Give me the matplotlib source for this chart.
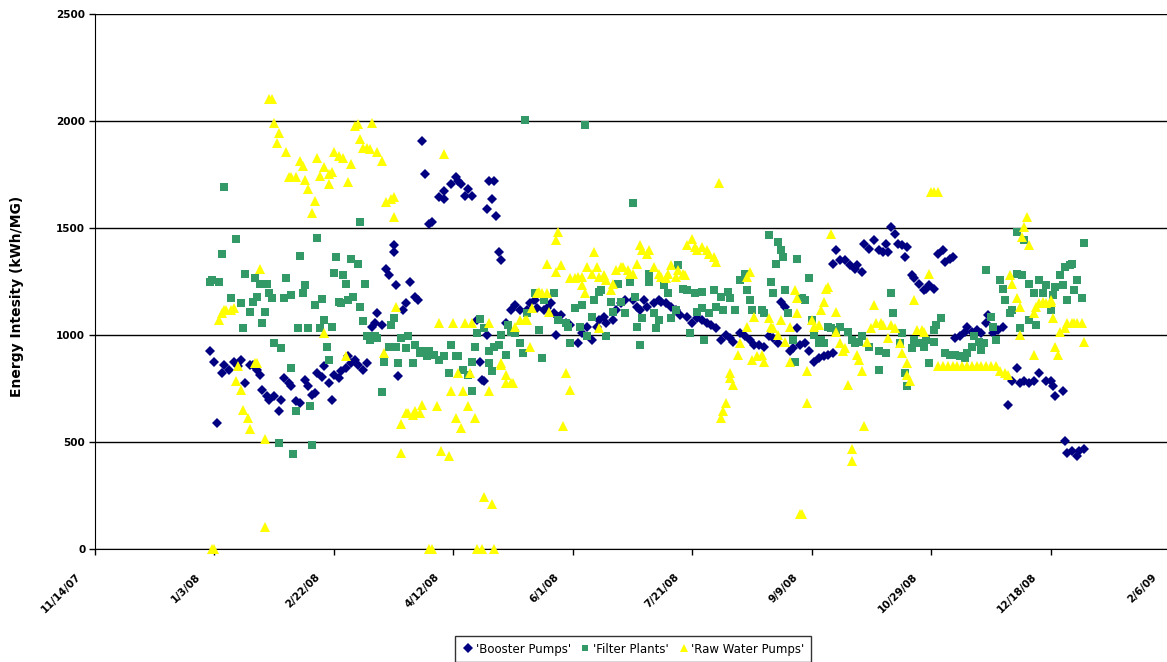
import numpy as np
import matplotlib
matplotlib.use("Agg")
import matplotlib.pyplot as plt
import matplotlib.dates as mdates

# days counted from 1/1/08, values in kWh/MG
booster_day = [0, 2, 3, 5, 6, 8, 10, 12, 13, 15, 17, 18,
               20, 21, 22, 24, 25, 27, 29, 30, 31, 33, 34, 36,
               38, 40, 41, 43, 44, 45, 47, 48, 50, 51, 52, 54,
               55, 57, 58, 59, 61, 62, 64, 66, 68, 69, 70, 72,
               74, 75, 77, 77, 78, 79, 81, 82, 84, 86, 87, 89,
               90, 92, 93, 96, 98, 98, 101, 103, 104, 105, 107, 108,
               110, 112, 113, 114, 115, 116, 116, 117, 118, 119, 120, 121,
               122, 124, 126, 128, 130, 133, 134, 136, 137, 140, 141, 143,
               144, 145, 146, 147, 149, 151, 154, 156, 158, 160, 162, 163,
               165, 166, 169, 170, 172, 174, 177, 179, 180, 182, 183, 186,
               188, 189, 191, 193, 195, 197, 200, 202, 204, 206, 208, 210,
               212, 214, 216, 218, 219, 222, 224, 226, 228, 230, 232, 234,
               236, 238, 239, 241, 243, 244, 246, 247, 249, 251, 253, 255,
               257, 259, 261, 261, 262, 264, 266, 268, 270, 271, 273, 274,
               276, 278, 280, 282, 283, 284, 285, 287, 288, 290, 291, 292,
               294, 295, 297, 299, 300, 301, 303, 305, 307, 308, 310, 311,
               312, 314, 316, 317, 319, 321, 323, 325, 326, 328, 330, 332,
               334, 336, 338, 339, 341, 343, 345, 347, 350, 352, 353, 354,
               357, 358, 359, 361, 363, 364, 366]
booster_kwh = [923, 876, 590, 822, 860, 837, 876, 853, 884, 775, 860, 860,
               837, 814, 744, 713, 698, 713, 644, 698, 799, 775, 760, 690,
               683, 791, 760, 721, 729, 822, 806, 853, 775, 698, 814, 799,
               830, 845, 900, 869, 884, 860, 837, 869, 1039, 1054, 1101, 1047,
               1310, 1279, 1419, 1388, 1233, 807, 1117, 1148, 1248, 1179, 1163, 1907,
               1752, 1520, 1527, 1644, 1675, 1636, 1705, 1736, 1721, 1705, 1651, 1682,
               1651, 1070, 876, 791, 783, 1000, 1589, 1721, 1636, 1721, 1558, 1388,
               1349, 1054, 1117, 1140, 1117, 1117, 1148, 1163, 1124, 1117, 1124, 1148,
               1101, 1000, 1085, 1093, 1054, 1047, 962, 1008, 1039, 977, 1039, 1070,
               1085, 1054, 1070, 1117, 1148, 1163, 1163, 1132, 1117, 1163, 1132, 1148,
               1163, 1155, 1148, 1132, 1117, 1093, 1085, 1054, 1078, 1070, 1054, 1047,
               1031, 977, 1000, 985, 969, 1008, 993, 977, 954, 954, 946, 993,
               985, 962, 1155, 1132, 923, 938, 1031, 954, 962, 923, 876, 892,
               900, 907, 915, 1334, 1396, 1349, 1349, 1326, 1310, 1326, 1295, 1427,
               1403, 1442, 1396, 1388, 1427, 1388, 1504, 1473, 1427, 1419, 1365, 1411,
               1279, 1264, 1240, 1209, 1217, 1233, 1217, 1380, 1396, 1341, 1357, 1365,
               985, 993, 1016, 1039, 1016, 1023, 1008, 1054, 1093, 1008, 1023, 1039,
               675, 783, 845, 776, 783, 776, 783, 822, 783, 783, 760, 713,
               737, 504, 450, 457, 434, 457, 465]

filter_day = [0, 1, 4, 5, 6, 9, 11, 13, 14, 15, 17, 18,
              19, 20, 21, 22, 23, 24, 25, 26, 27, 29, 30, 31,
              32, 34, 34, 35, 36, 37, 38, 39, 40, 41, 42, 43,
              44, 45, 46, 47, 48, 49, 50, 51, 52, 53, 54, 55,
              56, 57, 58, 59, 60, 62, 63, 63, 64, 65, 66, 67,
              69, 70, 72, 73, 75, 76, 77, 78, 79, 80, 82, 83,
              85, 86, 88, 89, 91, 92, 94, 96, 98, 100, 101, 103,
              104, 106, 108, 110, 110, 111, 112, 113, 115, 117, 117, 118,
              119, 121, 122, 124, 125, 126, 128, 130, 131, 132, 133, 136,
              138, 139, 140, 144, 146, 149, 150, 151, 153, 155, 156, 157,
              158, 160, 161, 163, 164, 166, 168, 169, 171, 172, 174, 176,
              177, 178, 179, 180, 181, 184, 184, 186, 187, 188, 190, 192,
              193, 195, 196, 198, 200, 201, 203, 204, 206, 206, 207, 209,
              211, 212, 214, 215, 217, 218, 220, 222, 224, 225, 226, 227,
              231, 232, 234, 235, 236, 237, 238, 239, 240, 241, 242, 244,
              245, 246, 248, 249, 251, 252, 253, 255, 256, 257, 259, 260,
              262, 264, 267, 269, 270, 272, 273, 276, 280, 280, 283, 285,
              286, 289, 290, 291, 292, 294, 295, 297, 299, 300, 301, 303,
              303, 304, 306, 308, 310, 312, 314, 316, 317, 319, 320, 322,
              323, 324, 325, 327, 328, 329, 331, 332, 333, 335, 336, 338,
              338, 339, 340, 341, 343, 343, 345, 346, 347, 349, 350, 352,
              353, 354, 356, 357, 358, 359, 360, 361, 362, 363, 365, 366]
filter_kwh = [1248, 1256, 1248, 1380, 1690, 1171, 1447, 1148, 1031, 1287, 1109, 1155,
              1264, 1179, 1240, 1054, 1109, 1240, 1194, 1171, 961, 496, 938, 1171,
              1264, 1186, 845, 442, 644, 1031, 1369, 1194, 1233, 1031, 667, 484,
              1140, 1454, 1031, 1166, 1070, 946, 884, 1039, 1290, 1364, 1155, 1148,
              1279, 1237, 1163, 1354, 1179, 1334, 1527, 1132, 1067, 1237, 993, 977,
              993, 985, 732, 876, 946, 1047, 1078, 946, 869, 985, 938, 993,
              869, 954, 915, 923, 900, 923, 907, 884, 900, 822, 954, 900,
              900, 837, 814, 737, 876, 946, 1008, 1073, 1031, 869, 923, 830,
              946, 954, 1000, 907, 1047, 1016, 1008, 962, 915, 2003, 1101, 1194,
              1023, 892, 1163, 1194, 1070, 1054, 1039, 962, 1124, 1039, 1140, 1980,
              993, 1085, 1163, 1202, 1209, 993, 1155, 1109, 1240, 1155, 1101, 1248,
              1616, 1179, 1039, 954, 1078, 1287, 1248, 1101, 1031, 1070, 1233, 1194,
              1078, 1117, 1326, 1217, 1209, 1008, 1194, 1109, 1202, 1124, 977, 1101,
              1209, 1132, 1179, 1117, 1202, 1171, 1117, 1256, 1287, 1209, 1163, 1117,
              1117, 1101, 1465, 1248, 1194, 1334, 1434, 1396, 1365, 1209, 1101, 977,
              876, 1357, 1171, 1163, 1264, 1070, 1000, 962, 977, 962, 1039, 1031,
              1023, 1039, 1016, 977, 962, 969, 993, 946, 923, 837, 915, 1194,
              1101, 962, 1008, 822, 760, 938, 977, 962, 946, 977, 869, 1023,
              969, 1047, 1078, 915, 907, 907, 900, 892, 915, 946, 993, 969,
              930, 962, 1302, 1085, 1039, 977, 1256, 1217, 1163, 1101, 1117, 1287,
              1481, 1031, 1279, 1442, 1070, 1240, 1194, 1047, 1256, 1194, 1233, 1117,
              1186, 1225, 1279, 1233, 1318, 1163, 1326, 1334, 1209, 1256, 1171, 1431]

raw_day = [1, 2, 4, 5, 6, 7, 9, 10, 11, 12, 13, 14,
           16, 17, 19, 20, 21, 23, 23, 25, 26, 27, 28, 29,
           32, 33, 34, 36, 38, 39, 40, 41, 43, 44, 45, 46,
           48, 48, 50, 50, 51, 52, 54, 56, 57, 58, 59, 61,
           62, 63, 64, 66, 67, 68, 70, 72, 73, 74, 76, 77,
           77, 78, 80, 80, 82, 83, 85, 86, 88, 89, 92, 93,
           95, 96, 97, 98, 100, 101, 102, 103, 104, 105, 106, 107,
           108, 109, 110, 111, 112, 114, 115, 117, 117, 118, 119, 122,
           122, 124, 124, 126, 127, 128, 130, 132, 133, 134, 135, 137,
           138, 139, 141, 141, 142, 145, 145, 146, 147, 148, 149, 151,
           151, 153, 154, 156, 156, 157, 158, 160, 161, 162, 163, 163,
           165, 166, 168, 169, 170, 172, 173, 175, 176, 177, 179, 180,
           181, 183, 184, 186, 188, 189, 191, 192, 193, 195, 196, 198,
           199, 200, 202, 203, 204, 206, 208, 209, 211, 212, 213, 214,
           215, 216, 218, 218, 219, 221, 222, 225, 225, 226, 227, 228,
           229, 231, 232, 234, 235, 236, 238, 239, 241, 243, 243, 245,
           246, 246, 247, 248, 250, 250, 252, 253, 255, 256, 257, 258,
           259, 260, 262, 262, 264, 265, 266, 267, 269, 269, 271, 272,
           273, 274, 275, 277, 278, 279, 281, 282, 284, 285, 287, 289,
           290, 292, 292, 293, 295, 296, 298, 299, 301, 302, 303, 305,
           305, 307, 309, 311, 313, 315, 317, 319, 321, 323, 325, 327,
           329, 331, 333, 334, 335, 336, 338, 339, 339, 340, 341, 342,
           343, 345, 345, 346, 347, 349, 350, 352, 352, 353, 354, 355,
           356, 358, 359, 361, 362, 363, 365, 366]
raw_kwh = [0, 0, 1070, 1101, 1117, 1117, 1117, 1124, 783, 853, 744, 651,
           613, 559, 869, 869, 1310, 516, 101, 2101, 2101, 1992, 1899, 1946,
           1857, 1736, 1736, 1736, 1814, 1791, 1724, 1682, 1569, 1628, 1829, 1744,
           1009, 1786, 1752, 1705, 1760, 1853, 1837, 1829, 900, 1713, 1798, 1977,
           1984, 1915, 1876, 1876, 1868, 1992, 1853, 1814, 915, 1620, 1636, 1550,
           1643, 1132, 450, 582, 636, 636, 628, 644, 636, 675, 0, 0,
           667, 1054, 458, 1845, 434, 737, 1054, 613, 822, 566, 737, 1054,
           667, 822, 1054, 613, 0, 0, 241, 1054, 737, 210, 0, 869,
           860, 814, 776, 776, 776, 1039, 1070, 1070, 1070, 946, 1124, 1194,
           1202, 1194, 1194, 1334, 1109, 1295, 1442, 1481, 1326, 574, 822, 744,
           1264, 1264, 1272, 1272, 1233, 1194, 1318, 1287, 1388, 1318, 1272, 1031,
           1279, 1256, 1209, 1240, 1302, 1318, 1318, 1302, 1287, 1287, 1334, 1419,
           1396, 1380, 1396, 1318, 1287, 1272, 1264, 1287, 1326, 1272, 1302, 1287,
           1279, 1419, 1450, 1411, 1396, 1411, 1396, 1380, 1365, 1341, 1709, 613,
           644, 683, 822, 799, 768, 907, 962, 1039, 1272, 1295, 884, 1085,
           900, 907, 876, 1078, 1039, 1031, 1000, 1070, 969, 876, 1039, 1209,
           1171, 1101, 163, 163, 830, 683, 1070, 1039, 1047, 1117, 1155, 1217,
           1225, 1473, 1016, 1109, 962, 923, 938, 768, 465, 411, 907, 884,
           830, 574, 969, 1031, 1140, 1054, 1054, 1047, 985, 1047, 1031, 962,
           915, 869, 814, 783, 1163, 1023, 1023, 1016, 1287, 1667, 1667, 1667,
           853, 853, 853, 853, 853, 853, 853, 853, 853, 853, 853, 853,
           853, 830, 822, 814, 1279, 1240, 1171, 1132, 1000, 1457, 1504, 1550,
           1419, 907, 1101, 1132, 1148, 1155, 1148, 1155, 1163, 1078, 946, 907,
           1016, 1031, 1054, 1054, 1054, 1054, 1054, 969]

y_ticks = [0, 500, 1000, 1500, 2000, 2500]

start = np.datetime64("2008-01-01")


def to_dates(days):
    return start + np.array(days).astype("timedelta64[D]")


plt.rcParams["font.family"] = ["DejaVu Sans"]

fig = plt.figure(figsize=(11.67, 6.62), dpi=100)
ax = fig.add_axes([0.0814, 0.1707, 0.9212, 0.8082])

ax.plot(to_dates(booster_day), booster_kwh, "D", color="#000080",
        markersize=5.5, markeredgewidth=0, label="'Booster Pumps'", zorder=3)
ax.plot(to_dates(filter_day), filter_kwh, "s", color="#339966",
        markersize=5.8, markeredgewidth=0, label="'Filter Plants'", zorder=4)
ax.plot(to_dates(raw_day), raw_kwh, "^", color="#FFFF00",
        markersize=7.5, markeredgewidth=0, label="'Raw Water Pumps'", zorder=5,
        clip_on=False)

x0 = np.datetime64("2007-11-14")
x1 = np.datetime64("2009-02-06")
ax.set_xlim(x0, x1)
ax.set_ylim(0, 2500)

# date ticks every 50 days, labels placed like Excel's slanted ones
xt = np.arange(x0, x1 + np.timedelta64(1, "D"), np.timedelta64(50, "D"))
ax.set_xticks(xt)
ax.set_xticklabels([])
for t in xt.astype(object):
    ax.annotate(f"{t.month}/{t.day}/{t.year % 100:02d}",
                xy=(mdates.date2num(t), 0), xycoords=ax.get_xaxis_transform(),
                xytext=(-11, -19), textcoords="offset points",
                rotation=45, ha="right", va="center", rotation_mode="anchor",
                fontsize=7.5, fontweight="bold", annotation_clip=False)

ax.set_yticks(y_ticks)
ax.set_yticklabels([str(v) for v in y_ticks], fontsize=7.5, fontweight="bold")

ax.yaxis.grid(True, color="black", linewidth=1)
ax.set_axisbelow(True)
for s in ["top", "right"]:
    ax.spines[s].set_visible(False)
ax.spines["left"].set_color("black")
ax.spines["bottom"].set_color("black")
ax.tick_params(axis="both", direction="out", length=4, width=1, color="black")
ax.tick_params(axis="y", pad=3)

ax.set_ylabel("Energy Intesity (kWh/MG)", fontsize=10, fontweight="bold")
ax.yaxis.set_label_coords(-0.066, 0.473)

leg = fig.legend(loc="upper center", bbox_to_anchor=(0.5424, 0.048), ncol=3,
                 frameon=True, fancybox=False, edgecolor="black",
                 fontsize=8.5, handletextpad=0.1, columnspacing=0.7,
                 handlelength=1.1, borderpad=0.55, markerscale=0.85)
leg.get_frame().set_linewidth(1)

fig.savefig("out.png", dpi=100)
